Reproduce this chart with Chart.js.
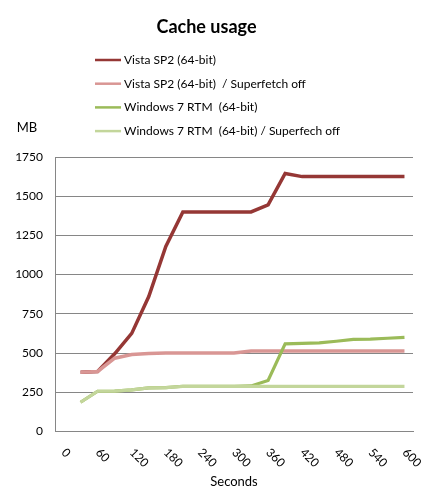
<!DOCTYPE html>
<html>

<head>
    <meta charset="utf-8" />
    <style>
        body { margin: 0; background: #fff; }
        #wrap { position: relative; width: 431px; height: 500px; }
    </style>
</head>

<body>
    <div id="wrap">
        <canvas id="cacheChart" width="431" height="500"></canvas>
    </div>

    <script src="https://cdn.jsdelivr.net/npm/chart.js@4.4.1/dist/chart.umd.min.js"></script>

    <script>
        const seconds = ['0', '30', '60', '90', '120', '150', '180', '210', '240', '270', '300',
            '330', '360', '390', '420', '450', '480', '510', '540', '570', '600'];
        const shownTicks = ['0', '60', '120', '180', '240', '300', '360', '420', '480', '540', '600'];
        const yTicks = [0, 250, 500, 750, 1000, 1250, 1500, 1750];

        const seriesNames = [
            'Vista SP2 (64-bit)',
            'Vista SP2 (64-bit)  / Superfetch off',
            'Windows 7 RTM  (64-bit)',
            'Windows 7 RTM  (64-bit) / Superfech off'
        ];
        const vista = [null, 378, 382, 495, 625, 860, 1180, 1400, 1400, 1400, 1400,
            1400, 1445, 1645, 1625, 1625, 1625, 1625, 1625, 1625, 1625];
        const vistaNoSf = [null, 378, 382, 467, 490, 497, 500, 500, 500, 500, 500,
            512, 512, 512, 512, 512, 512, 512, 512, 512, 512];
        const win7 = [null, 186, 256, 257, 265, 278, 279, 288, 288, 288, 288,
            290, 325, 558, 562, 565, 575, 587, 588, 594, 600];
        const win7NoSf = [null, 186, 256, 257, 265, 278, 279, 287, 287, 287, 287,
            287, 287, 287, 287, 287, 287, 287, 287, 287, 287];

        const lineColors = ['#953735', '#d99694', '#9bbb59', '#c3d69b'];

        const fontName = 'Lato, "Open Sans", sans-serif';

        // legend stacked one per row, the "MB" caption and slanted x labels
        const decor = {
            id: 'decor',
            afterDraw(chart) {
                const ctx = chart.ctx;
                ctx.save();
                ctx.font = '12px ' + fontName;
                ctx.textBaseline = 'middle';
                chart.data.datasets.forEach(function (ds, i) {
                    const y = 60 + i * 23.7;
                    ctx.strokeStyle = ds.borderColor;
                    ctx.lineWidth = 2.5;
                    ctx.beginPath();
                    ctx.moveTo(95, y);
                    ctx.lineTo(121, y);
                    ctx.stroke();
                    ctx.fillStyle = '#000';
                    ctx.textAlign = 'left';
                    ctx.fillText(ds.label, 124, y);
                });
                ctx.textAlign = 'center';
                ctx.font = '13px ' + fontName;
                ctx.fillText('MB', 27, 128);

                const xs = chart.scales.x;
                ctx.font = '12px ' + fontName;
                ctx.textAlign = 'left';
                seconds.forEach(function (lab, i) {
                    if (shownTicks.indexOf(lab) < 0) return;
                    const px = xs.getPixelForTick(i);
                    ctx.save();
                    ctx.translate(px, xs.top + 19);
                    ctx.rotate(Math.PI / 4);
                    ctx.fillText(lab, 0, 0);
                    ctx.restore();
                });
                ctx.restore();
            }
        };

        const datasets = [vista, vistaNoSf, win7, win7NoSf].map(function (vals, i) {
            return {
                label: seriesNames[i],
                data: vals,
                borderColor: lineColors[i],
                backgroundColor: lineColors[i],
                borderWidth: i < 2 ? 3.5 : 3.2,
                pointRadius: 0,
                tension: 0,
                order: 4 - i
            };
        });

        let cacheChart = new Chart(document.getElementById('cacheChart'), {
            type: 'line',
            data: { labels: seconds, datasets: datasets },
            options: {
                responsive: false,
                animation: false,
                layout: { padding: { left: 0, right: 18, bottom: 0 } },
                plugins: {
                    legend: { display: false },
                    tooltip: { enabled: false },
                    title: {
                        display: true,
                        text: 'Cache usage',
                        color: '#000',
                        font: { family: fontName, size: 18, weight: 'bold' },
                        padding: { top: 16, bottom: 119.4 }
                    }
                },
                scales: {
                    x: {
                        type: 'category',
                        offset: true,
                        grid: { display: false },
                        border: { display: true, color: '#868686', width: 1 },
                        ticks: { display: false },
                        title: {
                            display: true,
                            text: 'Seconds',
                            color: '#000',
                            font: { family: fontName, size: 13 },
                            padding: { top: 35, bottom: 10 }
                        }
                    },
                    y: {
                        min: 0,
                        max: 1750,
                        afterBuildTicks: function (scale) {
                            scale.ticks = yTicks.map(function (v) { return { value: v }; });
                        },
                        afterFit: function (scale) { scale.width = 55; },
                        grid: { color: '#868686', lineWidth: 1, drawTicks: false },
                        border: { display: true, color: '#868686', width: 1 },
                        ticks: {
                            color: '#000',
                            padding: 12,
                            font: { family: fontName, size: 12 },
                            callback: function (v) { return String(v); }
                        }
                    }
                }
            },
            plugins: [decor]
        });
    </script>
</body>

</html>
